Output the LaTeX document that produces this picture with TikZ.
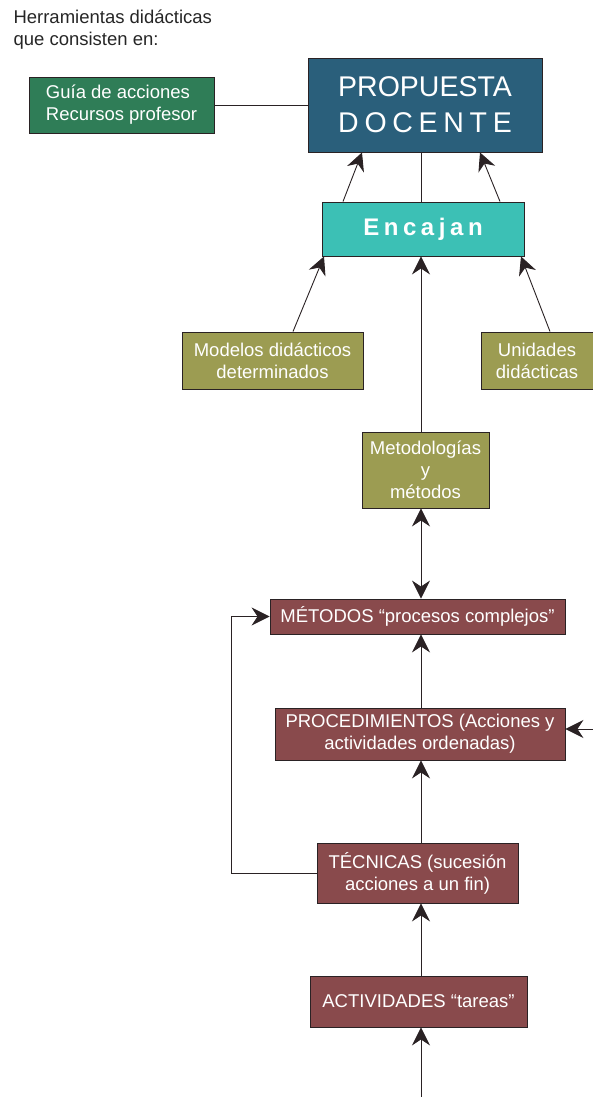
\documentclass[tikz,border=0pt]{standalone}
\usepackage{fontspec}
\setmainfont{Liberation Sans}
\usetikzlibrary{arrows.meta}

\definecolor{verdeguia}{HTML}{2F7D57}
\definecolor{azulprop}{HTML}{2A5F7B}
\definecolor{turquesa}{HTML}{3CC0B5}
\definecolor{oliva}{HTML}{9C9C52}
\definecolor{granate}{HTML}{894A4C}
\definecolor{linea}{HTML}{2A2224}

\begin{document}
\begin{tikzpicture}[%
        x = 1pt, y = -1pt,
        >={Stealth[length=18pt,width=18pt,inset=6pt]},
        caja/.style = {draw=linea, line width=0.9pt, text=white, inner sep=0pt,
                       align=center, font=\fontsize{18.5}{22}\selectfont},
        flecha/.style = {->, draw=linea, line width=0.9pt}
    ]
      \useasboundingbox (0,0) rectangle (592,1097);
      \coordinate (eje) at (421,0);
      \node[anchor=north west, align=left, text=black!85,
            font=\fontsize{18.5}{22}\selectfont] (titulo) at (10,6)
            {Herramientas didácticas\\que consisten en:};
      \node[caja, fill=verdeguia, align=left, minimum width=185pt, minimum height=56pt] (guia) at (121.5,105) {Guía de acciones\\Recursos profesor};
      \node[caja, fill=azulprop, minimum width=234pt, minimum height=94pt,
            font=\fontsize{28.5}{36}\selectfont] (prop) at (425,105)
            {PROPUESTA\\\addfontfeature{LetterSpace=20}DOCENTE};
      \node[caja, fill=turquesa, minimum width=202pt, minimum height=54pt,
            font=\fontsize{24}{28}\selectfont\bfseries\addfontfeature{LetterSpace=19}] (enc) at (423,229) {Encajan};
      \node[caja, fill=oliva, minimum width=181pt, minimum height=57pt] (mod) at (272.5,360.5) {Modelos didácticos\\determinados};
      \node[caja, fill=oliva, minimum width=112pt, minimum height=57pt] (uni) at (537,360.5) {Unidades\\didácticas};
      \node[caja, fill=oliva, minimum width=127pt, minimum height=76pt] (meto) at (425.5,470) {Metodologías\\y\\métodos};
      \node[caja, fill=granate, minimum width=295pt, minimum height=35pt] (metodos) at (417.5,616.5) {MÉTODOS “procesos complejos”};
      \node[caja, fill=granate, minimum width=290pt, minimum height=52pt] (proc) at (420,734) {PROCEDIMIENTOS (Acciones y\\actividades ordenadas)};
      \node[caja, fill=granate, minimum width=201pt, minimum height=60pt] (tec) at (417.5,873) {TÉCNICAS (sucesión\\acciones a un fin)};
      \node[caja, fill=granate, minimum width=217pt, minimum height=51pt] (act) at (418.5,1001.5) {ACTIVIDADES “tareas”};
      \coordinate (entrada) at (593,729);
      \coordinate (abajo) at (421,1098);
      % conexiones
      \draw[draw=linea, line width=0.9pt] (guia.east) -- (prop.west);
      \draw[draw=linea, line width=0.9pt] (enc.north -| eje) -- (prop.south -| eje);
      \draw[flecha] ([xshift=-80pt]enc.north) -- ([xshift=-63pt]prop.south);
      \draw[flecha] ([xshift=77pt]enc.north) -- ([xshift=55pt]prop.south);
      \draw[flecha] ([xshift=20.5pt]mod.north) -- ([xshift=-99pt]enc.south);
      \draw[flecha] ([xshift=13pt]uni.north) -- ([xshift=98pt]enc.south);
      \draw[flecha] (meto.north -| eje) -- (enc.south -| eje);
      \draw[flecha, <->] (meto.south -| eje) -- (metodos.north -| eje);
      \draw[flecha] (proc.north -| eje) -- (metodos.south -| eje);
      \draw[flecha] (entrada) -- (proc.east |- entrada);
      \draw[flecha] (tec.north -| eje) -- (proc.south -| eje);
      \draw[flecha] (tec.west) -- ++(-85,0) |- (metodos.west);
      \draw[flecha] (act.north -| eje) -- (tec.south -| eje);
      \draw[flecha] (abajo) -- (act.south -| eje);
    \end{tikzpicture}
\end{document}
